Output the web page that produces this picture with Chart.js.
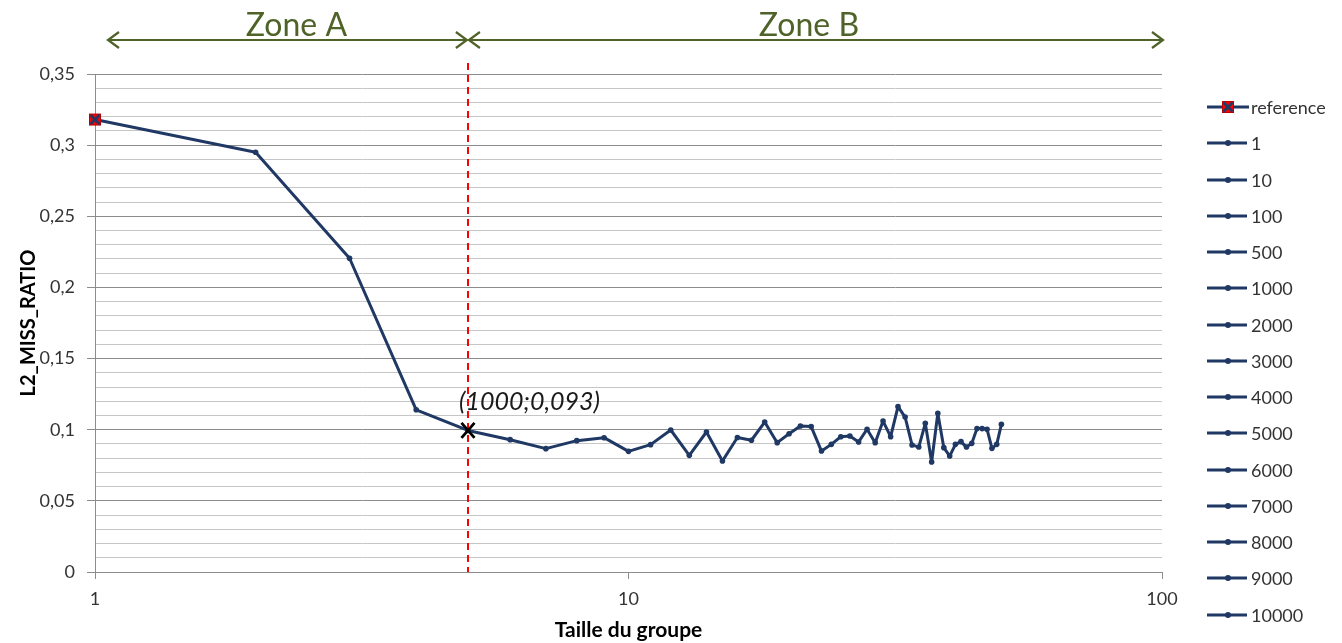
<!DOCTYPE html>
<html>
<head>
<meta charset="utf-8">
<script src="https://cdn.jsdelivr.net/npm/chart.js@4/dist/chart.umd.min.js"></script>
<style>
  html, body { margin: 0; padding: 0; background: #ffffff; }
  #wrap { width: 1342px; height: 643px; }
</style>
</head>
<body>
<div id="wrap"><canvas id="c" width="1342" height="643"></canvas></div>
<script>
// ---- data ----
const groupSizes = [1,2,3,4,5,6,7,8,9,10,11,12,13,14,15,16,17,18,19,20,21,22,23,24,25,26,27,28,29,30,31,32,33,34,35,36,37,38,39,40,41,42,43,44,45,46,47,48,49,50];
const missRatio = [0.318,0.295,0.2205,0.114,0.0995,0.093,0.0867,0.0923,0.0944,0.0848,0.0895,0.0998,0.082,0.0984,0.078,0.0945,0.0926,0.1054,0.0909,0.0972,0.1026,0.1022,0.085,0.0897,0.0951,0.0956,0.0914,0.1003,0.0909,0.1061,0.0951,0.1162,0.1089,0.0893,0.0878,0.1045,0.0773,0.1115,0.0874,0.0815,0.0897,0.0916,0.0878,0.0904,0.1008,0.1008,0.1003,0.0869,0.0897,0.1038];
const referenceX = [1];
const referenceY = [0.318];
const legendNames = ["reference","1","10","100","500","1000","2000","3000","4000","5000","6000","7000","8000","9000","10000"];
const xTickValues = [1, 10, 100];
const yMin = 0, yMax = 0.35, yStep = 0.01, yMajorEvery = 5;
const zoneNames = ["Zone A", "Zone B"];
const zoneBounds = [1, 5, 100];
const highlightX = 5;
const highlightLabel = "(1000;0,093)";
const xTitle = "Taille du groupe";
const yTitle = "L2_MISS_RATIO";

// ---- styles ----
const NAVY = '#1f3864';
const GREEN = '#4f6228';
const MAJOR = '#8c8c8c';
const MINOR = '#c6c6c6';
const TXT = '#333333';
const FONT = 'Lato, "Open Sans", sans-serif';

function makeRefIcon(withLine) {
  const w = withLine ? 42 : 16, h = 16;
  const cv = document.createElement('canvas');
  cv.width = w; cv.height = h;
  const g = cv.getContext('2d');
  const cx = w / 2, cy = h / 2;
  if (withLine) {
    g.strokeStyle = NAVY; g.lineWidth = 3;
    g.beginPath(); g.moveTo(0, cy); g.lineTo(w, cy); g.stroke();
  }
  g.fillStyle = '#ff0000';
  g.fillRect(cx - 6, cy - 6, 12, 12);
  g.strokeStyle = '#c00000'; g.lineWidth = 1;
  g.strokeRect(cx - 6 + 0.5, cy - 6 + 0.5, 11, 11);
  g.strokeStyle = NAVY; g.lineWidth = 2.8;
  g.beginPath();
  g.moveTo(cx - 4.5, cy - 4.5); g.lineTo(cx + 4.5, cy + 4.5);
  g.moveTo(cx + 4.5, cy - 4.5); g.lineTo(cx - 4.5, cy + 4.5);
  g.stroke();
  return cv;
}
const refPointImg = makeRefIcon(false);
const refLegendImg = makeRefIcon(true);

function isMajor(v) { return Math.round(v / yStep) % yMajorEvery === 0; }
function fmt(v) { return String(Number(v.toFixed(2))).replace('.', ','); }

const overlayPlugin = {
  id: 'overlay',
  afterDatasetsDraw(chart) {
    const ctx = chart.ctx;
    const xs = chart.scales.x, ys = chart.scales.y;
    const area = chart.chartArea;
    ctx.save();
    // dashed red line
    const hx = Math.round(xs.getPixelForValue(highlightX));
    ctx.strokeStyle = '#ff0000';
    ctx.lineWidth = 2;
    ctx.setLineDash([7, 5]);
    ctx.beginPath();
    ctx.moveTo(hx, area.top - 11);
    ctx.lineTo(hx, area.bottom);
    ctx.stroke();
    ctx.setLineDash([]);

    // black X marker on the highlighted point
    const hi = groupSizes.indexOf(highlightX);
    const hy = ys.getPixelForValue(missRatio[hi]);
    ctx.strokeStyle = '#000000';
    ctx.lineWidth = 2.8;
    ctx.beginPath();
    ctx.moveTo(hx - 6.5, hy - 7.5); ctx.lineTo(hx + 6.5, hy + 7.5);
    ctx.moveTo(hx + 6.5, hy - 7.5); ctx.lineTo(hx - 6.5, hy + 7.5);
    ctx.stroke();

    // annotation label
    ctx.fillStyle = '#1a1a1a';
    ctx.font = 'italic 25px ' + FONT;
    ctx.textAlign = 'left';
    ctx.textBaseline = 'alphabetic';
    ctx.fillText(highlightLabel, hx - 9, hy - 20);

    // zone arrows
    const ay = area.top - 34;
    ctx.strokeStyle = GREEN;
    ctx.fillStyle = GREEN;
    ctx.lineWidth = 2.2;
    const segs = [
      [xs.getPixelForValue(zoneBounds[0]) + 13, xs.getPixelForValue(zoneBounds[1]) - 1],
      [xs.getPixelForValue(zoneBounds[1]) + 1, xs.getPixelForValue(zoneBounds[2]) + 1]
    ];
    const labelShift = [9, -7];
    segs.forEach((s, i) => {
      const [a, b] = s;
      ctx.beginPath();
      ctx.moveTo(a, ay); ctx.lineTo(b, ay);
      ctx.moveTo(a + 11, ay - 8); ctx.lineTo(a, ay); ctx.lineTo(a + 11, ay + 8);
      ctx.moveTo(b - 11, ay - 8); ctx.lineTo(b, ay); ctx.lineTo(b - 11, ay + 8);
      ctx.stroke();
      ctx.font = '32px ' + FONT;
      ctx.textAlign = 'center';
      ctx.textBaseline = 'alphabetic';
      ctx.fillText(zoneNames[i], (a + b) / 2 + labelShift[i], ay - 4);
    });

    // legend
    const lx = area.right + 45, ly0 = area.top + 33, step = 36.26;
    legendNames.forEach((name, i) => {
      const y = Math.round(ly0 + i * step);
      if (i === 0) {
        ctx.drawImage(refLegendImg, lx, y - 8);
      } else {
        ctx.strokeStyle = NAVY; ctx.lineWidth = 3;
        ctx.beginPath(); ctx.moveTo(lx, y); ctx.lineTo(lx + 40, y); ctx.stroke();
        ctx.fillStyle = NAVY;
        ctx.beginPath(); ctx.arc(lx + 21, y, 3, 0, Math.PI * 2); ctx.fill();
      }
      ctx.fillStyle = TXT;
      ctx.font = '18px ' + FONT;
      ctx.textAlign = 'left';
      ctx.textBaseline = 'middle';
      ctx.fillText(name, lx + 44, y + 1);
    });
    ctx.restore();
  }
};

new Chart(document.getElementById('c'), {
  type: 'line',
  data: {
    datasets: [
      {
        label: legendNames[0],
        data: referenceX.map((x, i) => ({ x, y: referenceY[i] })),
        showLine: false,
        pointStyle: refPointImg,
        pointRadius: 7,
        clip: false,
        order: 0
      },
      {
        label: legendNames[1],
        data: groupSizes.map((x, i) => ({ x, y: missRatio[i] })),
        borderColor: NAVY,
        backgroundColor: NAVY,
        borderWidth: 3,
        borderJoinStyle: 'round',
        borderCapStyle: 'round',
        pointRadius: 2.8,
        pointStyle: 'circle',
        pointBorderWidth: 0,
        tension: 0,
        clip: false,
        order: 1
      }
    ]
  },
  options: {
    responsive: false,
    devicePixelRatio: 1,
    animation: false,
    layout: { padding: { top: 74, right: 180, left: 0, bottom: 0 } },
    plugins: { legend: { display: false }, tooltip: { enabled: false } },
    scales: {
      x: {
        type: 'logarithmic',
        min: 1, max: 100,
        afterBuildTicks(scale) { scale.ticks = xTickValues.map(v => ({ value: v })); },
        afterFit(scale) { scale.height = 71; },
        ticks: {
          autoSkip: false, maxRotation: 0, padding: 9,
          color: TXT, font: { family: FONT, size: 18 },
          callback: v => String(v)
        },
        grid: { drawOnChartArea: false, drawTicks: true, tickLength: 7, color: MAJOR, tickColor: MAJOR },
        border: { display: true, color: MAJOR, width: 1 },
        title: {
          display: true, text: xTitle, color: '#000',
          font: { family: FONT, size: 21, weight: 'bold' },
          padding: { top: 0, bottom: 0 }
        }
      },
      y: {
        type: 'linear',
        min: yMin, max: yMax,
        afterFit(scale) { scale.width = 95; },
        ticks: {
          stepSize: yStep, autoSkip: false, padding: 12,
          color: TXT, font: { family: FONT, size: 18 },
          callback: v => isMajor(v) ? fmt(v) : ''
        },
        grid: {
          color: c => (c.tick && isMajor(c.tick.value)) ? MAJOR : MINOR,
          tickColor: c => (c.tick && isMajor(c.tick.value)) ? MAJOR : 'rgba(0,0,0,0)',
          tickLength: 8, lineWidth: 1
        },
        border: { display: true, color: MAJOR, width: 1 },
        title: {
          display: true, text: yTitle, color: '#000',
          font: { family: FONT, size: 20, weight: 'bold' },
          padding: { top: 17, bottom: 0 }
        }
      }
    }
  },
  plugins: [overlayPlugin]
});
</script>
</body>
</html>
